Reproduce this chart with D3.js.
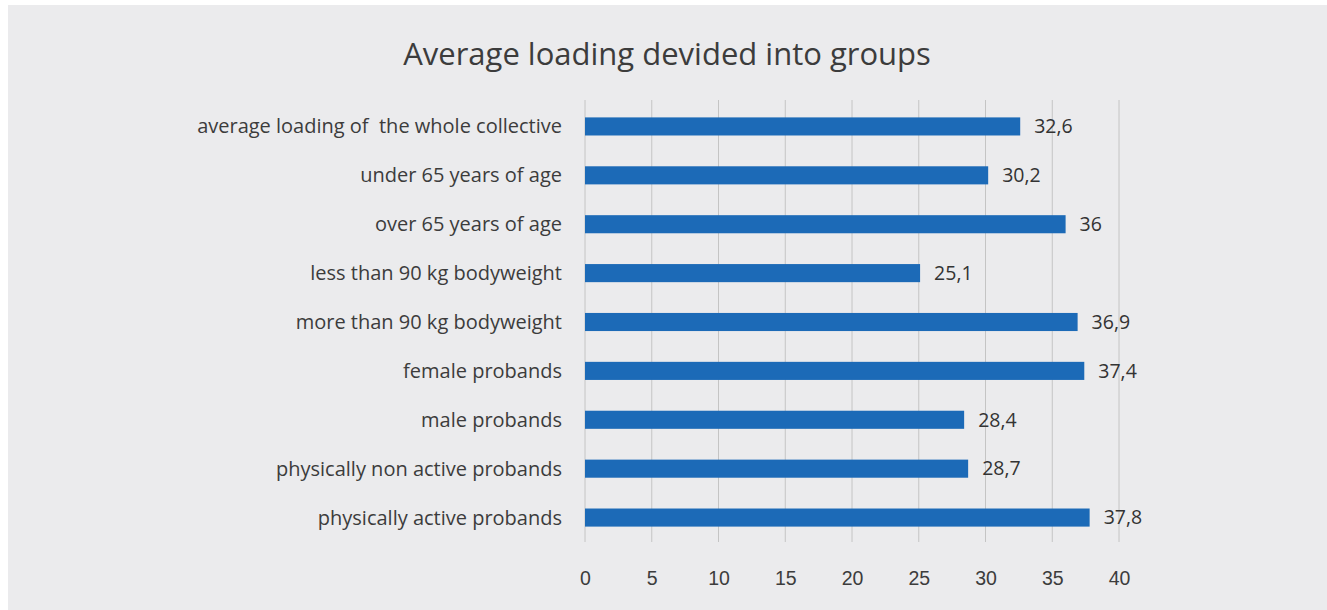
<!DOCTYPE html>
<html>
<head>
<meta charset="utf-8">
<script src="https://cdnjs.cloudflare.com/ajax/libs/d3/7.8.5/d3.min.js"></script>
<style>
  body { margin: 0; background: #fff; }
  svg { display: block; font-family: "Open Sans", sans-serif; }
  .cat { font-size: 20px; fill: #3c3c3c; white-space: pre; }
  .val { font-size: 19.5px; fill: #333; }
  .tick text { font-size: 19.5px; fill: #3c3c3c; }
</style>
</head>
<body>
<script>
var categories = [
  "average loading of  the whole collective",
  "under 65 years of age",
  "over 65 years of age",
  "less than 90 kg bodyweight",
  "more than 90 kg bodyweight",
  "female probands",
  "male probands",
  "physically non active probands",
  "physically active probands"
];
var values = [32.6, 30.2, 36, 25.1, 36.9, 37.4, 28.4, 28.7, 37.8];
var xTicks = [0, 5, 10, 15, 20, 25, 30, 35, 40];
var title = "Average loading devided into groups";

var W = 1327, H = 610;
var margin = {top: 102, right: 208, bottom: 68, left: 585},
    width = W - margin.left - margin.right,
    height = H - margin.top - margin.bottom;

var svg = d3.select("body").append("svg")
    .attr("width", W)
    .attr("height", H);

// grey panel with white strip along top and left
svg.append("rect")
    .attr("x", 8).attr("y", 5)
    .attr("width", W - 8).attr("height", H - 5)
    .attr("fill", "#ebebed");

svg.append("text")
    .attr("x", 667)
    .attr("y", 65)
    .attr("text-anchor", "middle")
    .style("font-size", "31px")
    .style("fill", "#3c3c3c")
    .text(title);

var g = svg.append("g")
    .attr("transform", "translate(" + margin.left + "," + margin.top + ")");

var x = d3.scaleLinear().domain([0, 40]).range([0, width]);
var y = d3.scaleBand().domain(categories).range([0, height]).paddingInner(0.63).paddingOuter(0.315);

// vertical grid lines
g.selectAll(".grid")
    .data(xTicks)
  .enter().append("line")
    .attr("class", "grid")
    .attr("x1", function(d) { return x(d); })
    .attr("x2", function(d) { return x(d); })
    .attr("y1", -2)
    .attr("y2", height)
    .attr("stroke", "#c4c4c4")
    .attr("stroke-width", 1);

g.selectAll(".bar")
    .data(values)
  .enter().append("rect")
    .attr("class", "bar")
    .attr("x", x(0))
    .attr("y", function(d, i) { return y(categories[i]); })
    .attr("width", function(d) { return x(d) - x(0); })
    .attr("height", y.bandwidth())
    .attr("fill", "#1c6ab7");

g.selectAll(".val")
    .data(values)
  .enter().append("text")
    .attr("class", "val")
    .attr("x", function(d) { return x(d) + 14; })
    .attr("y", function(d, i) { return y(categories[i]) + y.bandwidth() / 2; })
    .attr("dy", ".35em")
    .text(function(d) { return String(d).replace(".", ","); });

g.selectAll(".cat")
    .data(categories)
  .enter().append("text")
    .attr("class", "cat")
    .attr("x", -23)
    .attr("y", function(d) { return y(d) + y.bandwidth() / 2; })
    .attr("dy", ".35em")
    .attr("text-anchor", "end")
    .text(function(d) { return d; });

var xAxis = g.append("g")
    .attr("transform", "translate(0," + height + ")")
    .call(d3.axisBottom(x).tickValues(xTicks).tickSize(0).tickPadding(28));
xAxis.select(".domain").remove();
xAxis.selectAll("text").attr("dy", ".35em").attr("y", 36);
</script>
</body>
</html>
